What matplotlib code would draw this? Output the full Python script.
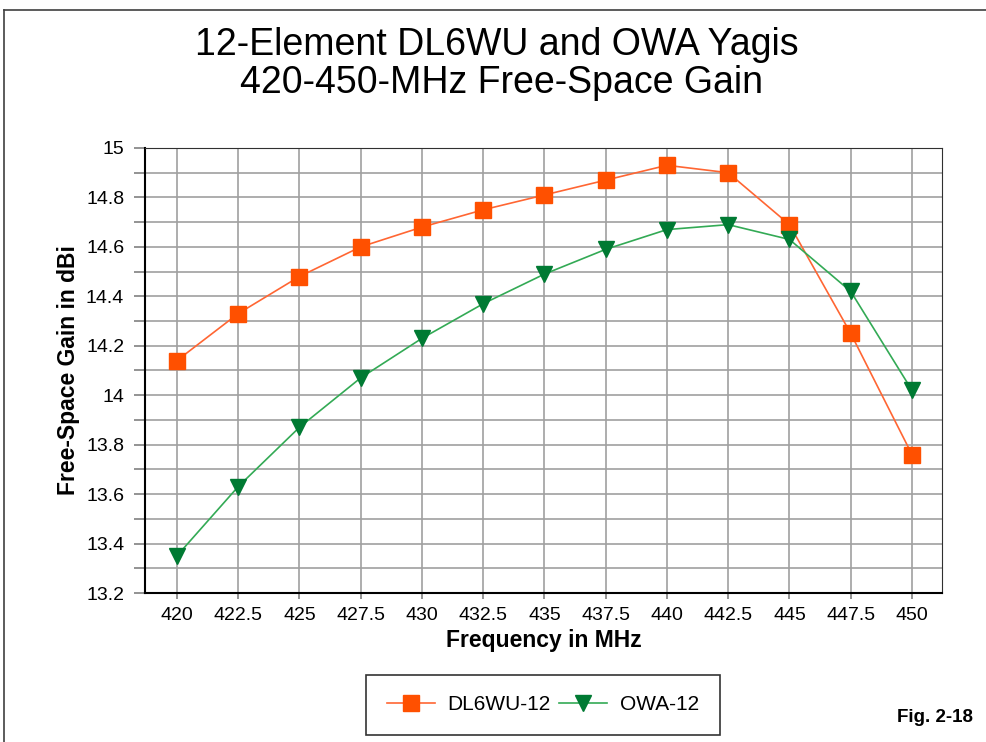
import matplotlib.pyplot as plt
import numpy as np
from matplotlib.ticker import MultipleLocator

plt.rcParams['font.family'] = ['Liberation Sans', 'DejaVu Sans']

freqs = [420, 422.5, 425, 427.5, 430, 432.5, 435, 437.5, 440, 442.5, 445, 447.5, 450]
freq_labels = ['420', '422.5', '425', '427.5', '430', '432.5', '435', '437.5',
               '440', '442.5', '445', '447.5', '450']
dl6wu = [14.14, 14.33, 14.48, 14.60, 14.68, 14.75, 14.81, 14.87, 14.93, 14.90, 14.69, 14.25, 13.76]
owa = [13.35, 13.63, 13.87, 14.07, 14.23, 14.37, 14.49, 14.59, 14.67, 14.69, 14.63, 14.42, 14.02]
gain_ticks = [13.2, 13.4, 13.6, 13.8, 14, 14.2, 14.4, 14.6, 14.8, 15]
gain_labels = ['13.2', '13.4', '13.6', '13.8', '14', '14.2', '14.4', '14.6', '14.8', '15']

fig = plt.figure(figsize=(9.87, 7.42), dpi=100)
ax = fig.add_axes([145/987, 1 - 593/742, (942-145)/987, (593-148)/742])

x = np.arange(len(freqs))
ax.plot(x, dl6wu, color='#ff6633', lw=1.2, marker='s', ms=11,
        mfc='#ff5000', mec='#ff5000', label='DL6WU-12', zorder=3)
ax.plot(x, owa, color='#33aa55', lw=1.2, marker='v', ms=12,
        mfc='#007a33', mec='#007a33', label='OWA-12', zorder=3)

ax.set_xlim(-0.52, 12.49)
ax.set_ylim(13.2, 15)
ax.set_xticks(x)
ax.set_xticklabels(freq_labels)
ax.set_yticks(gain_ticks)
ax.set_yticklabels(gain_labels)
ax.yaxis.set_minor_locator(MultipleLocator(0.1))
ax.grid(True, which='both', color='#a0a0a0', lw=1.2)
ax.grid(False, which='minor', axis='x')
ax.set_axisbelow(True)
ax.tick_params(axis='both', which='both', labelsize=14, color='#808080', length=4, width=1.2)
ax.tick_params(axis='y', which='both', length=8, pad=7)
ax.tick_params(axis='x', pad=6)
for s in ['top', 'right']:
    ax.spines[s].set_color('#303030')
ax.spines['left'].set_linewidth(1.5)
ax.spines['bottom'].set_linewidth(1.5)

ax.set_xlabel('Frequency in MHz', fontsize=16.5, fontweight='bold', labelpad=4)
ax.set_ylabel('Free-Space Gain in dBi', fontsize=16.5, fontweight='bold')
ax.yaxis.set_label_coords(-0.0816, 0.5)

fig.text(0.503, 1 - 45/742, '12-Element DL6WU and OWA Yagis', ha='center', va='center', fontsize=27)
fig.text(0.508, 1 - 83/742, '420-450-MHz Free-Space Gain', ha='center', va='center', fontsize=27)

leg = fig.legend(loc='center', bbox_to_anchor=(543/987, 1 - 705/742), ncol=2, fontsize=15,
                 frameon=True, fancybox=False, edgecolor='black', borderpad=1.0,
                 handlelength=2.3, columnspacing=0.4, handletextpad=0.6)
leg.get_frame().set_linewidth(1.2)

fig.text(935/987, 1 - 717/742, 'Fig. 2-18', ha='center', va='center', fontsize=13.5,
         fontweight='bold')

# outer frame lines
fig.add_artist(plt.Line2D([4/987, 4/987], [0, 1 - 10/742], color='#404040', lw=1.2, transform=fig.transFigure))
fig.add_artist(plt.Line2D([4/987, 1], [1 - 10/742, 1 - 10/742], color='#404040', lw=1.2, transform=fig.transFigure))

fig.savefig('out.png', dpi=100)
